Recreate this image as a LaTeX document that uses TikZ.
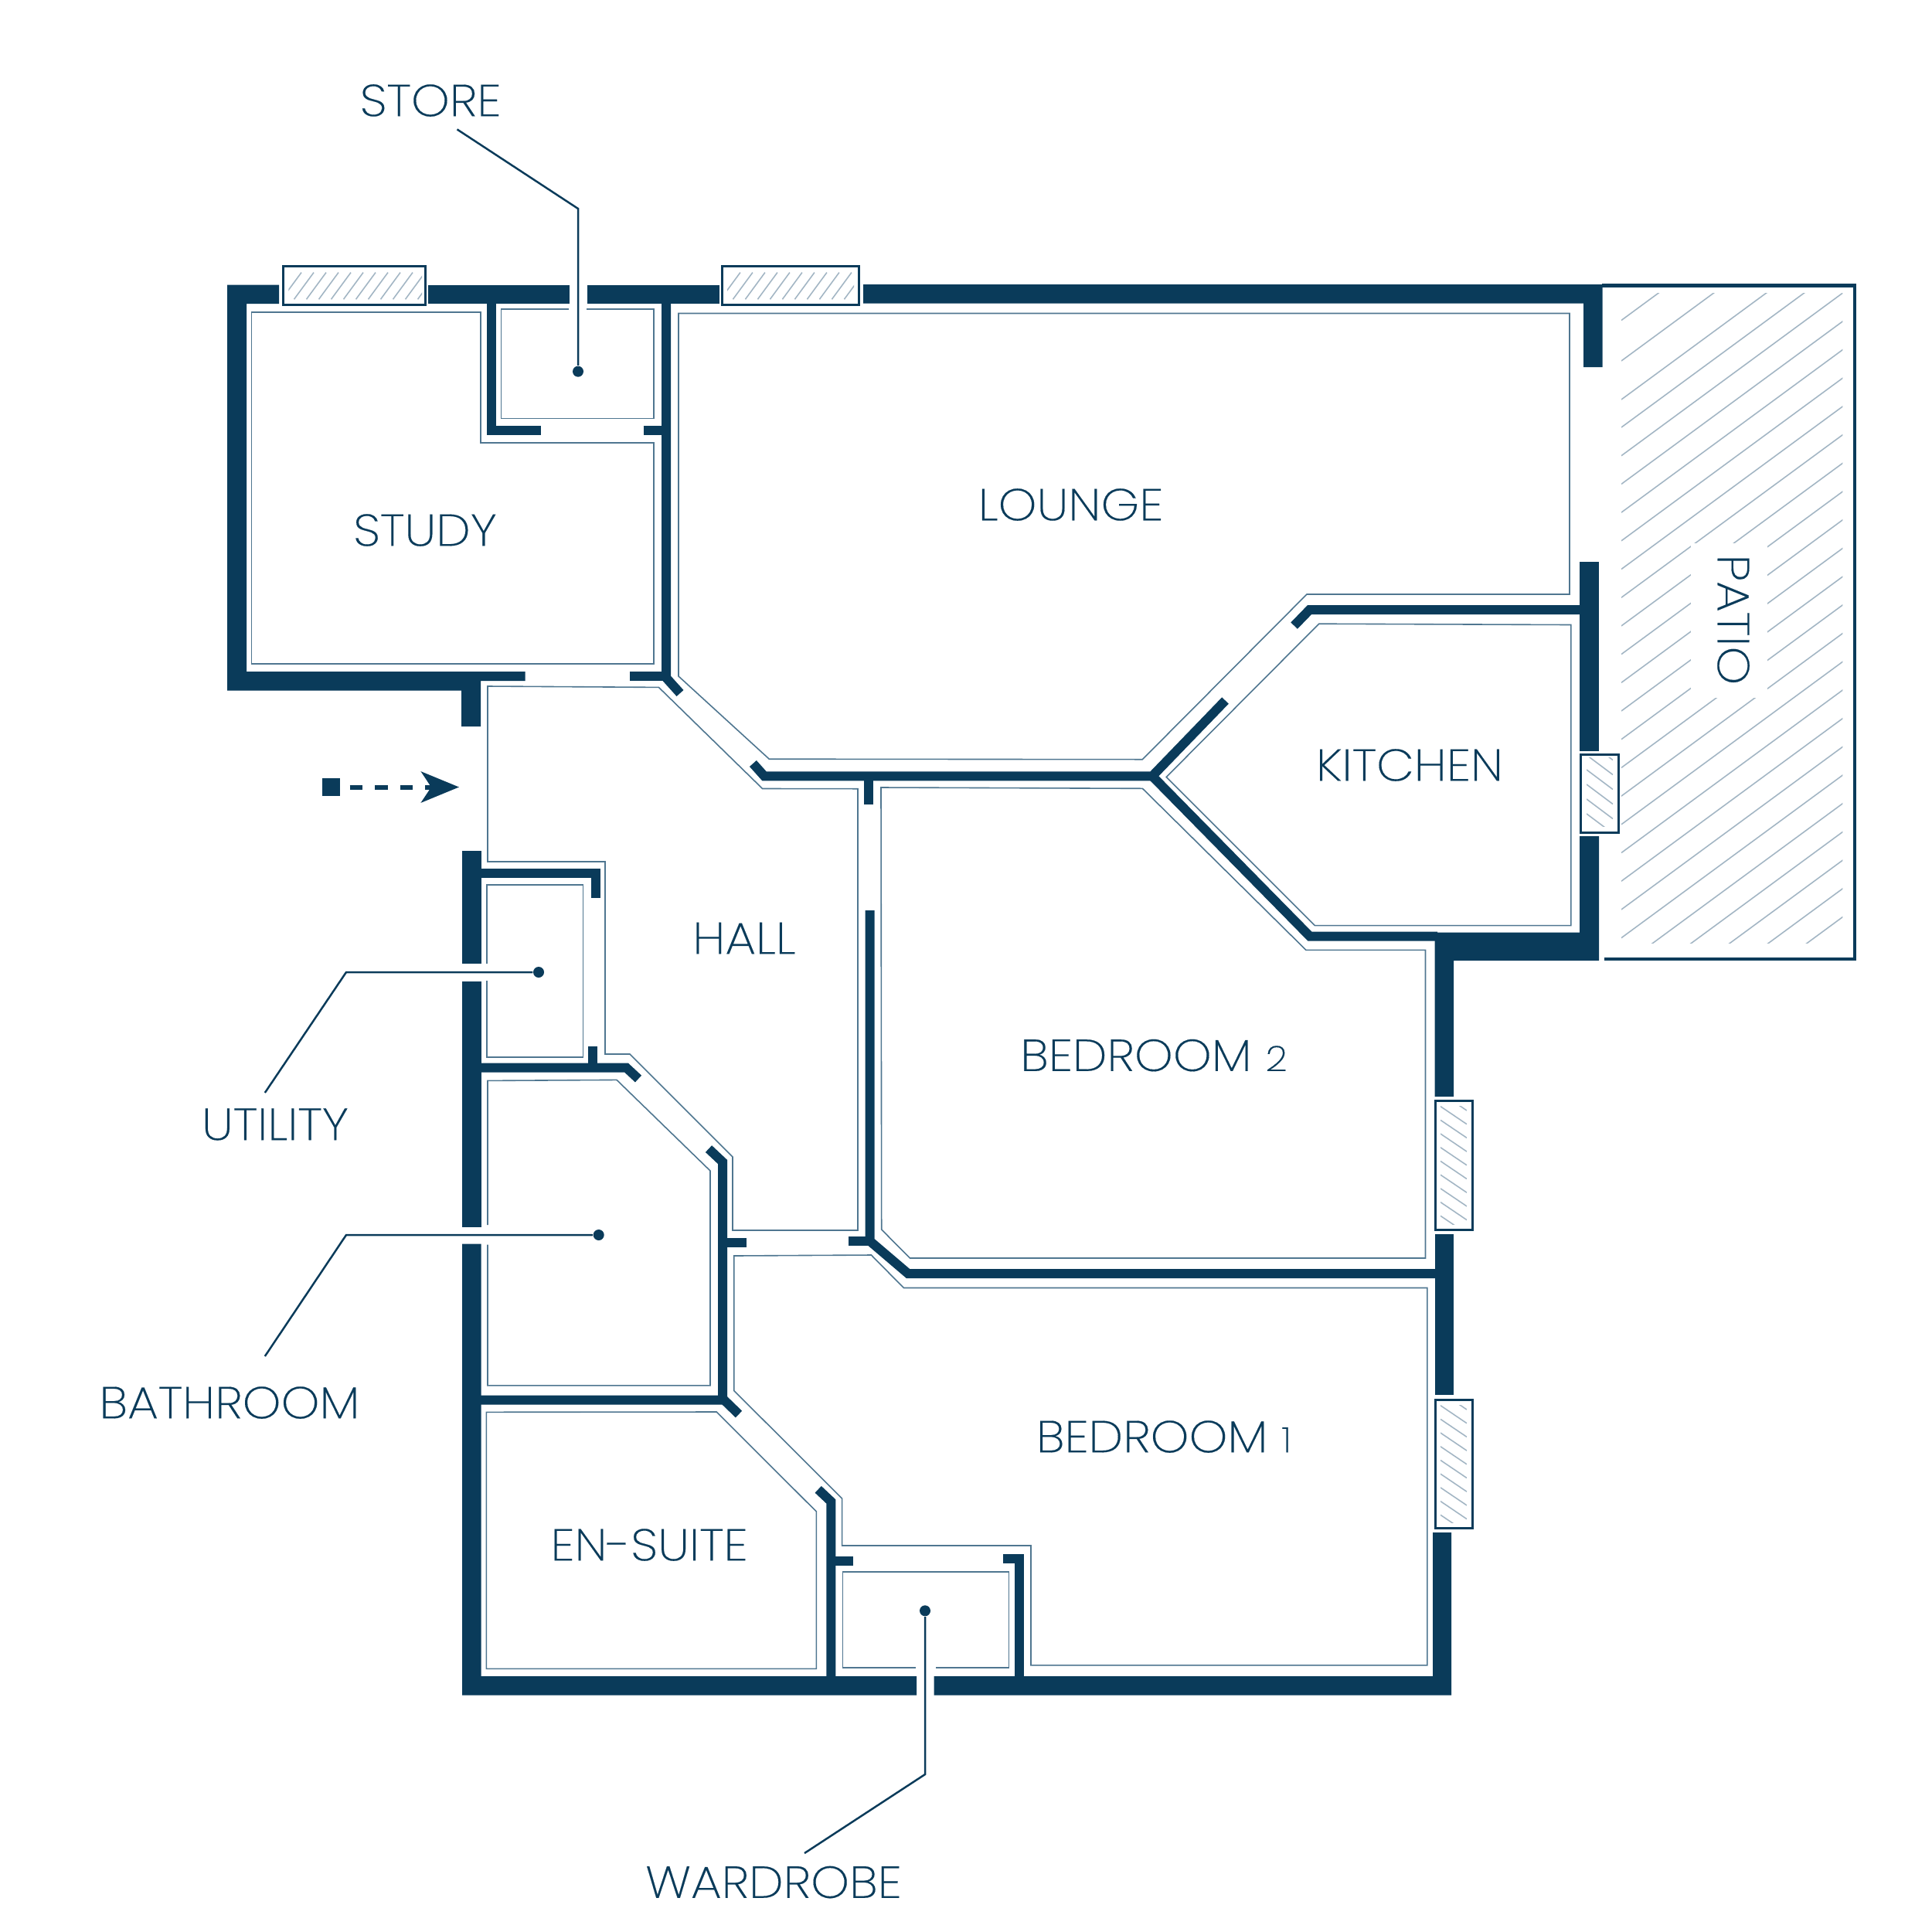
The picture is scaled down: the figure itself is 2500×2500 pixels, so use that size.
\documentclass[tikz,border=0pt]{standalone}
\usepackage{fontspec}
\setmainfont{Poppins}[UprightFont=* ExtraLight,UprightFeatures={FakeStretch=1.09,FakeBold=0.25}]
\usetikzlibrary{arrows.meta}

\definecolor{planBlue}{HTML}{0A3B5A}
\definecolor{lineBlue}{HTML}{4F7690}
\definecolor{hatchBlue}{HTML}{A3B6C4}

\begin{document}
\begin{tikzpicture}[x=0.01cm,y=-0.01cm]
  \newdimen\dist
  \dist=0.01cm

  \tikzstyle{wallFill} = [
    fill=planBlue
  ];
  \tikzstyle{partition} = [
    draw=planBlue,
    line width=12*\dist,
    miter limit=10
  ];
  \tikzstyle{roomLine} = [
    draw=lineBlue,
    line width=1.6*\dist
  ];
  \tikzstyle{glazing} = [
    draw=planBlue,
    line width=3*\dist
  ];
  \tikzstyle{hatching} = [
    draw=hatchBlue,
    line width=1.6*\dist
  ];
  \tikzstyle{leader} = [
    draw=planBlue,
    line width=2.5*\dist
  ];
  \tikzstyle{leaderDot} = [
    circle, fill=planBlue, inner sep=0pt, minimum size=14*\dist
  ];
  \tikzstyle{roomLabel} = [
    % Just text!
    inner sep=0pt,
    text=planBlue,
    font=\fontsize{16.5}{20}\selectfont
  ];
  \newcommand{\smallFigure}[1]{{\fontsize{12.9}{20}\selectfont #1}}

  \useasboundingbox (0,0) rectangle (2500,2500);

  % Patio
  \path [glazing, line width=4.5*\dist] (2073,369.5) -- (2400,369.5) -- (2400,1241) -- (2076,1241);
  \begin{scope}
    \clip (2098,379) rectangle (2384.4,1220);
    \foreach \i in {0,...,24}
      \path [hatching] (2098,553+36.7*\i) -- ++(287,-211);
    \path [hatching] (2098,414.5) -- ++(287,-211);
    \path [hatching] (2098,467) -- ++(287,-211);
    \path [hatching] (2098,517) -- ++(287,-211);
    \fill [white] (2188,703) rectangle (2287,903);
  \end{scope}

  % Outer walls
  \path [wallFill] (294,368.5) -- (361,368.5) -- (361,393) -- (319,393) -- (319,869)
        -- (679.5,869) -- (679.5,881) -- (622,881) -- (622,940) -- (597,940)
        -- (597,893.5) -- (294,893.5) -- cycle;
  \path [wallFill] (554,368.5) rectangle (737,393);
  \path [wallFill] (760,368.5) rectangle (930.5,393);
  \path [wallFill] (1117,368) -- (2073.7,368) -- (2073.7,475) -- (2049,475)
        -- (2049,392.5) -- (1117,392.5) -- cycle;
  \path [wallFill] (2044,727) rectangle (2069,971.5);
  \path [wallFill] (2044,1082) -- (2069,1082) -- (2069,1243) -- (1881,1243) -- (1881,1419)
        -- (1856.6,1419) -- (1856.6,1206.6) -- (2044,1206.6) -- cycle;
  \path [wallFill] (1856.6,1597) rectangle (1880.7,1804.7);
  \path [wallFill] (1208.5,2169) -- (1854,2169) -- (1854,1983) -- (1878,1983)
        -- (1878,2193.5) -- (1208.5,2193.5) -- cycle;
  \path [wallFill] (598,1609.6) -- (622.5,1609.6) -- (622.5,2169) -- (1186,2169)
        -- (1186,2193.5) -- (598,2193.5) -- cycle;
  \path [wallFill] (598,1270) rectangle (622.5,1587.6);
  \path [wallFill] (598,1101) rectangle (622.5,1247);

  % Inner walls
  \path [partition] (636,393) -- (636,557) -- (700,557);
  \path [partition] (862,393) -- (862,877) -- (880,897);
  \path [partition] (832.5,557) -- (862,557);
  \path [partition] (815,875) -- (862,875);
  \path [partition] (974.4,988) -- (989,1004.3) -- (1491,1004.3) -- (1585.5,906.5);
  \path [partition] (1491,1004.3) -- (1695,1211.7) -- (1860,1211.7);
  \path [partition] (1674.6,809.6) -- (1694.6,789) -- (2046,789);
  \path [partition] (1124,1004) -- (1124,1041);
  \path [partition] (1125.7,1178) -- (1125.7,1606) -- (1175,1648) -- (1860,1648);
  \path [partition] (1098,1606) -- (1125.7,1606);
  \path [partition] (622,1130) -- (770.5,1130) -- (770.5,1161.6);
  \path [partition] (622,1381.5) -- (810.4,1381.5) -- (826,1396);
  \path [partition] (767,1354) -- (767,1381.5);
  \path [partition] (917,1486.6) -- (935,1503.5) -- (935,1811.6);
  \path [partition] (622,1811.6) -- (937,1811.6) -- (956,1830);
  \path [partition] (935,1607.7) -- (966,1607.7);
  \path [partition] (1058.7,1927.3) -- (1075.4,1943) -- (1075.4,2170);
  \path [partition] (1075,2020) -- (1104.4,2020);
  \path [partition] (1298.3,2016.7) -- (1319,2016.7) -- (1319,2170);

  % Room outlines
  \path [roomLine] (325.4,403.7) -- (622,403.7) -- (622,573) -- (846,573) -- (846,859) -- (325.4,859) -- cycle;
  \path [roomLine] (736,400) -- (648.4,400) -- (648.4,541.4) -- (846,541.4) -- (846,400) -- (758.6,400);
  \path [roomLine] (878,405.5) -- (2031,405.5) -- (2031,769) -- (1691,769) -- (1478.3,982.7)
        -- (995.3,982.2) -- (878,875) -- cycle;
  \path [roomLine] (1706.7,807.2) -- (2032.8,808.5) -- (2032.8,1197.6) -- (1701.3,1197.6) -- (1509.2,1005.5) -- cycle;
  \path [roomLine] (631,888) -- (852.4,889.4) -- (986.6,1020.5) -- (1110,1020.7) -- (1110,1592)
        -- (948,1592) -- (948,1497) -- (815,1364) -- (783,1364) -- (783,1115) -- (631,1115) -- cycle;
  \path [roomLine] (630,1247) -- (630,1144.8) -- (754.6,1144.8) -- (754.6,1367.8) -- (630,1367.8) -- (630,1269);
  \path [roomLine] (631,1585) -- (631,1398.4) -- (798,1397.4) -- (919,1515) -- (919,1792.8) -- (631,1792.8) -- (631,1610.6);
  \path [roomLine] (1140,1019) -- (1478.4,1020.3) -- (1690,1229.4) -- (1844.5,1229.4) -- (1844.5,1628)
        -- (1177.4,1628) -- (1140.7,1591) -- cycle;
  \path [roomLine] (949.7,1625) -- (1127.4,1624) -- (1169.4,1666.5) -- (1846.8,1666.5) -- (1846.8,2154.8)
        -- (1334,2154.8) -- (1334,2000) -- (1089.6,2000) -- (1089.6,1939) -- (949.7,1799.4) -- cycle;
  \path [roomLine] (629.4,1827.3) -- (927.3,1827) -- (1056.4,1956) -- (1056.4,2159.3) -- (629.4,2159.3) -- cycle;
  \path [roomLine] (1184.5,2158) -- (1090.6,2158) -- (1090.6,2034) -- (1305.4,2034) -- (1305.4,2158) -- (1211,2158);

  % Windows
  \foreach \wa/\wb/\wc/\wd in {366/344.5/550/394, 934/344.5/1111/394, 2045.6/976/2094.4/1077,
                               1857/1424/1905/1591, 1857/1811/1905/1977}
    \path [glazing] (\wa,\wb) rectangle (\wc,\wd);
  \begin{scope}
    \clip (373.4,352.6) rectangle (546,387.3);
    \foreach \i in {0,...,11}
      \path [hatching] (364.5+16*\i,387.3) -- ++(25.5,-34.7);
  \end{scope}
  \begin{scope}
    \clip (941,352.6) rectangle (1105,387.3);
    \foreach \i in {0,...,10}
      \path [hatching] (932.4+16*\i,387.3) -- ++(25.5,-34.7);
  \end{scope}
  \begin{scope}
    \clip (2053,980) rectangle (2087,1069.6);
    \foreach \i in {0,...,6}
      \path [hatching] (2053,958+19*\i) -- ++(34,25.5);
  \end{scope}
  \begin{scope}
    \clip (1864,1431) rectangle (1898,1584);
    \foreach \i in {0,...,9}
      \path [hatching] (1864,1414+17.7*\i) -- ++(34,23);
  \end{scope}
  \begin{scope}
    \clip (1864,1818) rectangle (1898,1970);
    \foreach \i in {0,...,9}
      \path [hatching] (1864,1801+17.7*\i) -- ++(34,23);
  \end{scope}

  % Entrance
  \node [fill=planBlue, inner sep=0pt, minimum size=23*\dist] (entrySquare) at (428.5,1018.5) {};
  \coordinate (entryTip) at (594,1018.5);
  \path [draw=planBlue, line width=6*\dist, dash pattern=on 0.165cm off 0.16cm, shorten <=12*\dist,
         -{Stealth[length=0.49cm,width=0.40cm,inset=0.13cm]}] (entrySquare) -- (entryTip);

  % Room names
  \node [roomLabel] (study) at (550,686) {STUDY};
  \node [roomLabel] (lounge) at (1385.6,653) {LOUNGE};
  \node [roomLabel] (kitchen) at (1824,990) {KITCHEN};
  \node [roomLabel, rotate=-90] (patio) at (2243,802) {PATIO};
  \node [roomLabel] (hall) at (963,1214) {HALL};
  \node [roomLabel] (bedroomTwo) at (1493,1365.6) {BEDROOM \smallFigure{2}};
  \node [roomLabel] (bedroomOne) at (1506,1859) {BEDROOM \smallFigure{1}};
  \node [roomLabel] (enSuite) at (840,1999) {EN-SUITE};

  % Called out rooms
  \node [roomLabel] (store) at (557,130) {STORE};
  \node [roomLabel] (utility) at (356,1455) {UTILITY};
  \node [roomLabel] (bathroom) at (297,1815) {BATHROOM};
  \node [roomLabel] (wardrobe) at (1001,2435.5) {WARDROBE};

  \node [leaderDot] (storeDot) at (748,480.7) {};
  \node [leaderDot] (utilityDot) at (697,1258) {};
  \node [leaderDot] (bathroomDot) at (774.7,1598) {};
  \node [leaderDot] (wardrobeDot) at (1197,2084.3) {};

  \coordinate (storeEnd) at (591.5,167.4);
  \coordinate (utilityEnd) at (342.8,1414);
  \coordinate (bathroomEnd) at (342.8,1755);
  \coordinate (wardrobeEnd) at (1041,2398);

  \path [leader] (storeEnd) -- (748,270) -- (storeDot);
  \path [leader] (utilityEnd) -- (448,1258) -- (utilityDot);
  \path [leader] (bathroomEnd) -- (448,1598) -- (bathroomDot);
  \path [leader] (wardrobeEnd) -- (1197,2296) -- (wardrobeDot);
\end{tikzpicture}
\end{document}
